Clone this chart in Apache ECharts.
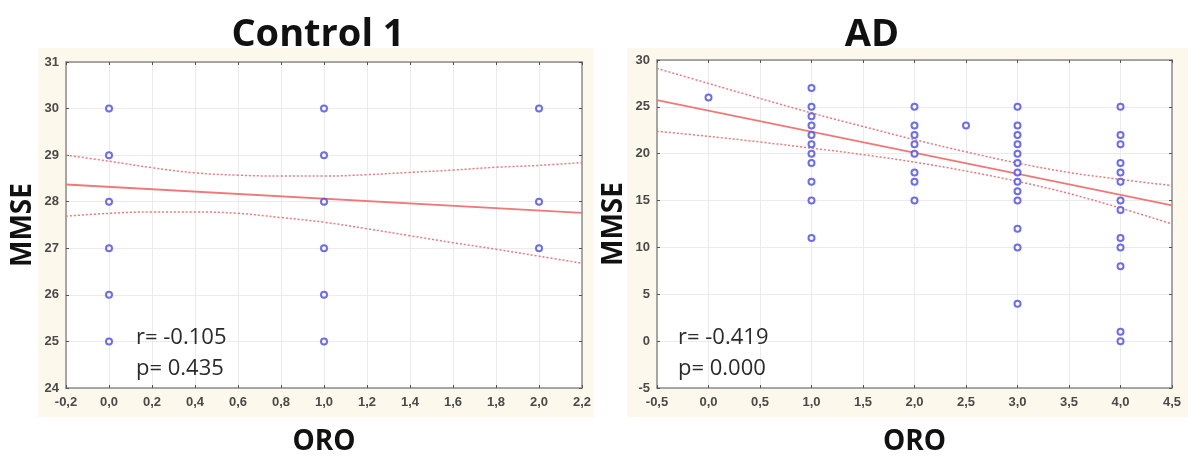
<!DOCTYPE html>
<html>
<head>
<meta charset="utf-8">
<script src="https://cdn.jsdelivr.net/npm/echarts@6/dist/echarts.min.js"></script>
<style>
html,body{margin:0;padding:0;background:#fff;}
#chart{width:1200px;height:464px;}
</style>
</head>
<body>
<div id="chart"></div>
<script>
// ---- Control 1 panel data ----
const controlX = [0, 0, 0, 0, 0, 0, 1, 1, 1, 1, 1, 1, 2, 2, 2];
const controlY = [30, 29, 28, 27, 26, 25, 30, 29, 28, 27, 26, 25, 30, 28, 27];
const controlFitX = [-0.2, 2.2];
const controlFitY = [28.37, 27.76];
const controlBandX = [-0.2, 0, 0.2, 0.4, 0.6, 0.8, 1.0, 1.2, 1.4, 1.6, 1.8, 2.0, 2.2];
const controlUpper = [29.0, 28.87, 28.73, 28.62, 28.57, 28.55, 28.55, 28.58, 28.63, 28.68, 28.74, 28.78, 28.84];
const controlLower = [27.69, 27.75, 27.78, 27.78, 27.75, 27.66, 27.56, 27.42, 27.27, 27.12, 26.98, 26.83, 26.68];
const controlStats = ['r= -0.105', 'p= 0.435'];

// ---- AD panel data ----
const adX = [0,
  1, 1, 1, 1, 1, 1, 1, 1, 1, 1, 1,
  2, 2, 2, 2, 2, 2, 2, 2,
  2.5,
  3, 3, 3, 3, 3, 3, 3, 3, 3, 3, 3, 3, 3,
  4, 4, 4, 4, 4, 4, 4, 4, 4, 4, 4, 4, 4];
const adY = [26,
  27, 25, 24, 23, 22, 21, 20, 19, 17, 15, 11,
  25, 23, 22, 21, 20, 18, 17, 15,
  23,
  25, 23, 22, 21, 20, 19, 18, 17, 16, 15, 12, 10, 4,
  25, 22, 21, 19, 18, 17, 15, 14, 11, 10, 8, 1, 0];
const adFitX = [-0.5, 4.5];
const adFitY = [25.73, 14.5];
const adBandX = [-0.5, 0, 0.5, 1.0, 1.5, 2.0, 2.5, 3.0, 3.5, 4.0, 4.5];
const adUpper = [29.1, 27.5, 25.9, 24.35, 22.9, 21.5, 20.2, 19.0, 18.0, 17.25, 16.6];
const adLower = [22.4, 21.85, 21.25, 20.6, 19.9, 19.1, 18.15, 17.05, 15.75, 14.2, 12.5];
const adStats = ['r= -0.419', 'p= 0.000'];

// ---- titles / axes ----
const panelTitles = ['Control 1', 'AD'];
const xName = 'ORO';
const yName = 'MMSE';

const zip = (a, b) => a.map((v, i) => [v, b[i]]);

const chart = echarts.init(document.getElementById('chart'), null, {renderer: 'canvas'});

const tickFont = {
  color: '#4a4a4a', fontSize: 13, fontWeight: 'bold',
  fontFamily: '"Liberation Sans", Arial, sans-serif'
};
const gridLine = {show: true, lineStyle: {color: '#ebebeb', width: 1}};
const frameColor = '#8c8c8c';
const lineColor = '#f07878';
const pointColor = '#4848ee';

function xAxes(gi, min, max, interval) {
  return [{
    type: 'value', gridIndex: gi, min: min, max: max, interval: interval,
    axisLine: {show: true, onZero: false, lineStyle: {color: frameColor, width: 1.5}},
    axisTick: {show: true, inside: true, length: 3, lineStyle: {color: '#555'}},
    axisLabel: Object.assign({margin: 8, formatter: v => v.toFixed(1).replace('.', ',')}, tickFont),
    splitLine: gridLine,
    name: xName, nameLocation: 'middle', nameGap: 40,
    nameTextStyle: {fontFamily: '"Open Sans", sans-serif', fontWeight: 'bold', fontSize: 28, color: '#111'}
  }, {
    type: 'value', gridIndex: gi, position: 'top', min: min, max: max, interval: interval,
    axisLine: {show: true, onZero: false, lineStyle: {color: frameColor, width: 1.5}},
    axisTick: {show: true, inside: true, length: 3, lineStyle: {color: '#555'}},
    axisLabel: {show: false}, splitLine: {show: false}
  }];
}
function yAxes(gi, min, max, interval) {
  return [{
    type: 'value', gridIndex: gi, min: min, max: max, interval: interval,
    axisLine: {show: true, onZero: false, lineStyle: {color: frameColor, width: 1.5}},
    axisTick: {show: true, inside: true, length: 3, lineStyle: {color: '#555'}},
    axisLabel: Object.assign({margin: 7, formatter: v => String(v)}, tickFont),
    splitLine: gridLine,
    name: yName, nameLocation: 'middle', nameRotate: 90, nameGap: 29,
    nameTextStyle: {fontFamily: '"Open Sans", sans-serif', fontWeight: 'bold', fontSize: 28, color: '#111'}
  }, {
    type: 'value', gridIndex: gi, position: 'right', min: min, max: max, interval: interval,
    axisLine: {show: true, onZero: false, lineStyle: {color: frameColor, width: 1.5}},
    axisTick: {show: true, inside: true, length: 3, lineStyle: {color: '#555'}},
    axisLabel: {show: false}, splitLine: {show: false}
  }];
}

function panelSeries(xi, yi, fitX, fitY, bandX, up, low, px, py) {
  return [
    {type: 'line', xAxisIndex: xi, yAxisIndex: yi, data: zip(bandX, up), smooth: 0.4, symbol: 'none',
      lineStyle: {color: lineColor, width: 1.5, type: [2, 2]}, silent: true, z: 2},
    {type: 'line', xAxisIndex: xi, yAxisIndex: yi, data: zip(bandX, low), smooth: 0.4, symbol: 'none',
      lineStyle: {color: lineColor, width: 1.5, type: [2, 2]}, silent: true, z: 2},
    {type: 'line', xAxisIndex: xi, yAxisIndex: yi, data: zip(fitX, fitY), symbol: 'none',
      lineStyle: {color: lineColor, width: 1.8}, silent: true, z: 3},
    {type: 'scatter', xAxisIndex: xi, yAxisIndex: yi, data: zip(px, py), symbol: 'emptyCircle', symbolSize: 6,
      itemStyle: {color: pointColor, borderColor: pointColor, borderWidth: 1.6}, z: 4}
  ];
}

const statStyle = {fontFamily: '"Open Sans", sans-serif', fontSize: 22, fill: '#2a2a2a'};
const titleStyle = {fontFamily: '"Open Sans", sans-serif', fontWeight: 'bold', fontSize: 38, fill: '#111',
  textAlign: 'center', textVerticalAlign: 'middle'};

const option = {
  backgroundColor: '#ffffff',
  animation: false,
  graphic: [
    {type: 'rect', shape: {x: 38, y: 48, width: 556, height: 369}, style: {fill: '#fdf8ec'}, z: -10},
    {type: 'rect', shape: {x: 627, y: 48, width: 561, height: 369}, style: {fill: '#fdf8ec'}, z: -10},
    {type: 'text', style: Object.assign({x: 318, y: 35, text: panelTitles[0]}, titleStyle)},
    {type: 'text', style: Object.assign({x: 872, y: 35, text: panelTitles[1]}, titleStyle)},
    {type: 'text', style: Object.assign({x: 136, y: 338, text: controlStats[0], textVerticalAlign: 'middle'}, statStyle), z: 10},
    {type: 'text', style: Object.assign({x: 136, y: 369, text: controlStats[1], textVerticalAlign: 'middle'}, statStyle), z: 10},
    {type: 'text', style: Object.assign({x: 678, y: 338, text: adStats[0], textVerticalAlign: 'middle'}, statStyle), z: 10},
    {type: 'text', style: Object.assign({x: 678, y: 369, text: adStats[1], textVerticalAlign: 'middle'}, statStyle), z: 10}
  ],
  grid: [
    {left: 66, top: 62, width: 516, height: 326, show: true, backgroundColor: '#ffffff', borderWidth: 0},
    {left: 657, top: 60, width: 515, height: 328, show: true, backgroundColor: '#ffffff', borderWidth: 0}
  ],
  xAxis: [].concat(xAxes(0, -0.2, 2.2, 0.2), xAxes(1, -0.5, 4.5, 0.5)),
  yAxis: [].concat(yAxes(0, 24, 31, 1), yAxes(1, -5, 30, 5)),
  series: [].concat(
    panelSeries(0, 0, controlFitX, controlFitY, controlBandX, controlUpper, controlLower, controlX, controlY),
    panelSeries(2, 2, adFitX, adFitY, adBandX, adUpper, adLower, adX, adY)
  )
};
chart.setOption(option);
</script>
</body>
</html>
